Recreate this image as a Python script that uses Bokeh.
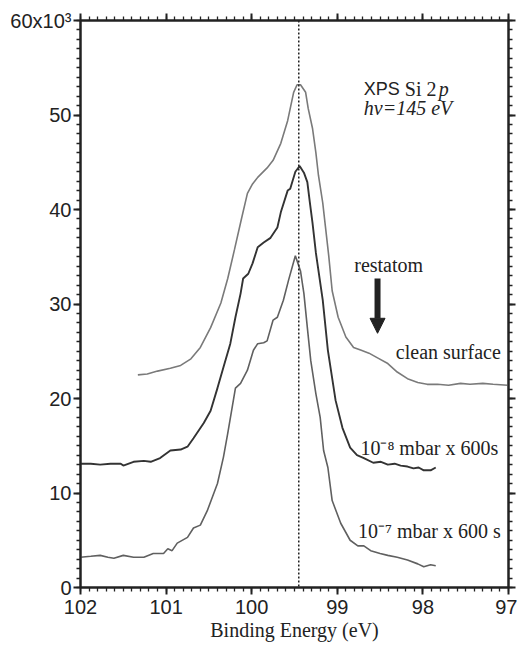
import numpy as np
from bokeh.plotting import figure
from bokeh.models import (Range1d, LinearAxis, FixedTicker, CustomJSTickFormatter,
                          Label, Span, Arrow, NormalHead, ColumnDataSource)
from bokeh.embed import file_html
from bokeh.resources import INLINE

# ---------------- data (binding energy in eV, intensity in 10^3 counts) ----------------
clean_energy = [101.33, 101.22, 101.10, 100.95, 100.83, 100.71, 100.60, 100.48, 100.36, 100.28,
                100.20, 100.12, 100.05, 99.99, 99.93, 99.82, 99.75, 99.66, 99.58, 99.51,
                99.47, 99.43, 99.37, 99.34, 99.29, 99.25, 99.22, 99.17, 99.14, 99.10,
                99.06, 98.99, 98.90, 98.81, 98.72, 98.63, 98.53, 98.41, 98.30, 98.18,
                98.06, 97.95, 97.83, 97.70, 97.56, 97.45, 97.30, 97.18, 97.01]
clean_intensity_k = [22.5, 22.6, 22.9, 23.2, 23.5, 24.2, 25.4, 27.5, 30.1, 32.7,
                     35.8, 39.0, 41.7, 42.7, 43.4, 44.4, 45.2, 47.0, 49.4, 52.4,
                     53.2, 53.2, 52.4, 50.7, 48.6, 46.0, 43.6, 40.7, 38.3, 35.1,
                     31.4, 28.6, 26.5, 25.4, 25.1, 24.8, 24.3, 23.7, 22.8, 22.1,
                     21.7, 21.5, 21.5, 21.4, 21.6, 21.5, 21.6, 21.5, 21.4]

e8_energy = [102.00, 101.88, 101.77, 101.65, 101.53, 101.50, 101.38, 101.26, 101.18, 101.07,
             100.95, 100.83, 100.75, 100.68, 100.56, 100.48, 100.40, 100.33, 100.25, 100.19,
             100.13, 100.10, 100.04, 99.99, 99.93, 99.86, 99.78, 99.70, 99.66, 99.58,
             99.55, 99.49, 99.44, 99.39, 99.35, 99.32, 99.29, 99.25, 99.17, 99.11,
             99.02, 98.94, 98.85, 98.77, 98.69, 98.58, 98.49, 98.41, 98.33, 98.26,
             98.18, 98.11, 98.05, 97.99, 97.91, 97.85]
e8_intensity_k = [13.1, 13.1, 13.0, 13.1, 13.1, 12.9, 13.3, 13.4, 13.3, 13.7,
                  14.5, 14.6, 14.9, 15.8, 17.4, 18.7, 21.1, 23.3, 25.8, 28.6,
                  31.1, 32.7, 33.2, 34.3, 36.0, 36.5, 37.0, 38.1, 39.7, 42.0,
                  42.2, 44.0, 44.6, 43.9, 42.9, 40.7, 38.6, 35.4, 30.4, 25.1,
                  19.8, 16.9, 14.8, 14.0, 13.7, 13.2, 13.3, 13.0, 13.1, 12.9,
                  12.8, 12.6, 12.7, 12.4, 12.4, 12.7]

e7_energy = [102.00, 101.88, 101.77, 101.68, 101.61, 101.50, 101.38, 101.26, 101.15, 101.03,
             100.98, 100.93, 100.87, 100.75, 100.68, 100.60, 100.52, 100.40, 100.33, 100.28,
             100.19, 100.13, 100.05, 99.98, 99.93, 99.86, 99.82, 99.75, 99.70, 99.63,
             99.57, 99.49, 99.43, 99.39, 99.35, 99.31, 99.25, 99.20, 99.16, 99.11,
             99.06, 98.96, 98.85, 98.76, 98.69, 98.61, 98.50, 98.41, 98.30, 98.18,
             98.06, 97.99, 97.91, 97.85]
e7_intensity_k = [3.2, 3.3, 3.4, 3.2, 3.1, 3.4, 3.2, 3.2, 3.6, 3.6,
                  4.1, 3.9, 4.7, 5.3, 6.3, 6.6, 8.1, 11.0, 13.8, 16.3,
                  21.1, 21.6, 23.0, 25.1, 25.8, 25.9, 26.1, 28.3, 28.6, 30.4,
                  32.5, 35.1, 33.5, 31.1, 27.5, 24.0, 20.5, 18.0, 14.5, 12.7,
                  9.2, 6.8, 5.0, 4.4, 4.4, 3.9, 3.6, 3.4, 3.2, 2.9,
                  2.5, 2.2, 2.4, 2.3]

x_ticks = [102, 101, 100, 99, 98, 97]
y_ticks = [0, 10000, 20000, 30000, 40000, 50000, 60000]
peak_position = 99.45
restatom_position = 98.53

INK = "#222222"
SERIF = "Liberation Serif"
SANS = "Liberation Sans"

X_START, X_END = 102.0, 97.0
Y_START, Y_END = 0.0, 60000.0

p = figure(frame_width=428, frame_height=567,
           min_border_left=80, min_border_right=9, min_border_top=20, min_border_bottom=62,
           x_range=Range1d(X_START, X_END), y_range=Range1d(Y_START, Y_END),
           x_axis_type=None, y_axis_type=None,
           output_backend="svg", toolbar_location=None)
p.outline_line_color = INK
p.outline_line_width = 2
p.background_fill_color = "white"
p.border_fill_color = "white"

x_minor = [round(float(v), 2) for v in np.arange(97.0, 102.001, 0.1)]
y_minor = [float(v) for v in range(0, 60001, 1000)]


def style_axis(ax, labels):
    ax.axis_line_color = INK
    ax.axis_line_width = 2
    ax.major_tick_line_color = INK
    ax.major_tick_line_width = 2
    ax.minor_tick_line_color = INK
    ax.minor_tick_line_width = 1.3
    ax.major_tick_in = 0
    ax.major_tick_out = 7
    ax.minor_tick_in = 0
    ax.minor_tick_out = 4
    if labels:
        ax.major_label_text_font = SANS
        ax.major_label_text_font_size = "20px"
        ax.major_label_text_color = INK
    else:
        ax.major_label_text_font_size = "0px"
        ax.major_label_standoff = 0
        ax.formatter = CustomJSTickFormatter(code="return '';")


# ---------------- axes ----------------
bottom = LinearAxis(ticker=FixedTicker(ticks=x_ticks, minor_ticks=x_minor),
                    axis_label="Binding Energy (eV)")
style_axis(bottom, True)
bottom.major_label_standoff = 5
bottom.axis_label_standoff = 2
bottom.axis_label_text_font = SERIF
bottom.axis_label_text_font_size = "20px"
bottom.axis_label_text_font_style = "normal"
bottom.axis_label_text_color = INK
p.add_layout(bottom, "below")

left = LinearAxis(ticker=FixedTicker(ticks=y_ticks, minor_ticks=y_minor))
style_axis(left, True)
left.major_label_standoff = 2
left.formatter = CustomJSTickFormatter(
    code="return tick >= 60000 ? '60x10\u00b3' : (tick / 1000).toFixed(0);")
p.add_layout(left, "left")

top = LinearAxis(ticker=FixedTicker(ticks=x_ticks, minor_ticks=x_minor))
style_axis(top, False)
p.add_layout(top, "above")

right = LinearAxis(ticker=FixedTicker(ticks=y_ticks, minor_ticks=y_minor))
style_axis(right, False)
p.add_layout(right, "right")

# ---------------- curves ----------------
src_clean = ColumnDataSource(dict(x=clean_energy, y=np.array(clean_intensity_k) * 1000))
src_e8 = ColumnDataSource(dict(x=e8_energy, y=np.array(e8_intensity_k) * 1000))
src_e7 = ColumnDataSource(dict(x=e7_energy, y=np.array(e7_intensity_k) * 1000))

p.line("x", "y", source=src_clean, line_color="#7a7a7a", line_width=1.6)
p.line("x", "y", source=src_e8, line_color="#333333", line_width=1.9)
p.line("x", "y", source=src_e7, line_color="#606060", line_width=1.6)

p.add_layout(Span(location=peak_position, dimension="height", line_color=INK,
                  line_width=1.5, line_dash="2 2"))

# ---------------- annotations ----------------
p.add_layout(Arrow(x_start=restatom_position, y_start=32700, x_end=restatom_position, y_end=26900,
                   line_color=INK, line_width=6,
                   end=NormalHead(size=15, fill_color=INK, line_color=INK, line_width=1)))


def lab(text, x, y, font=SERIF, style="normal", align="left", size="20px", x_offset=0):
    p.add_layout(Label(x=x, y=y, text=text, text_font=font, text_font_style=style,
                       text_font_size=size, text_color=INK, text_align=align,
                       text_baseline="middle", x_offset=x_offset))


lab("restatom", 98.40, 34100, align="center")
lab("clean surface", 97.09, 24900, align="right")
lab("10\u207b\u2078 mbar x 600s", 97.12, 14800, align="right")
lab("10\u207b\u2077 mbar x 600 s", 97.09, 6000, align="right")

lab("XPS", 98.69, 52800, font=SANS, size="18px")
lab("Si 2", 98.69, 52800, x_offset=41)
lab("p", 98.69, 52800, style="italic", x_offset=75)
lab("h\u03bd=145 eV", 98.69, 50700, style="italic")

# y-axis title placed as in the original (not centred on the frame)
p.add_layout(Label(x=-50, y=27000, x_units="screen", y_units="data",
                   text="Photoemission Intensity (arb. units)", angle=np.pi / 2,
                   text_font=SERIF, text_font_size="20px", text_color=INK,
                   text_align="center", text_baseline="middle"))

open("out.html", "w").write(file_html(p, INLINE))
